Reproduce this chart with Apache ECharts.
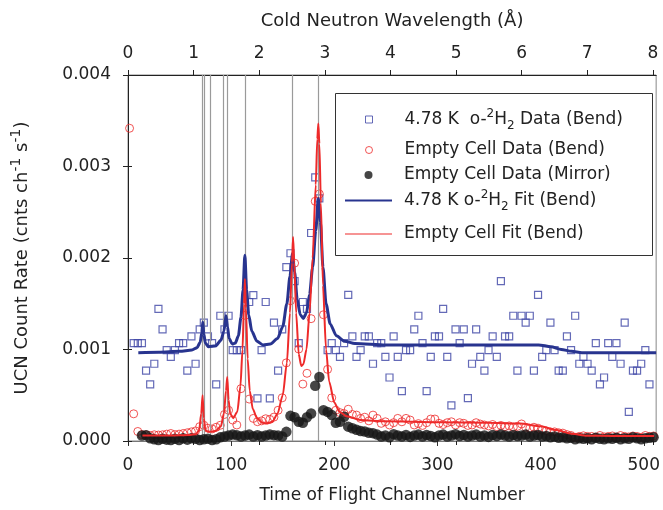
<!DOCTYPE html>
<html><head><meta charset="utf-8">
<script src="https://cdn.jsdelivr.net/npm/echarts@6/dist/echarts.min.js"></script>
<style>html,body{margin:0;padding:0;background:#fff}#c{width:663px;height:510px}</style>
</head><body><div id="c"></div>
<script>
// Time-of-flight channel (bin centres)
const channels = [1.5,5.5,9.5,13.5,17.5,21.5,25.5,29.5,33.5,37.5,41.5,45.5,49.5,53.5,57.5,61.5,65.5,69.5,73.5,77.5,81.5,85.5,89.5,93.5,97.5,101.5,105.5,109.5,113.5,117.5,121.5,125.5,129.5,133.5,137.5,141.5,145.5,149.5,153.5,157.5,161.5,165.5,169.5,173.5,177.5,181.5,185.5,189.5,193.5,197.5,201.5,205.5,209.5,213.5,217.5,221.5,225.5,229.5,233.5,237.5,241.5,245.5,249.5,253.5,257.5,261.5,265.5,269.5,273.5,277.5,281.5,285.5,289.5,293.5,297.5,301.5,305.5,309.5,313.5,317.5,321.5,325.5,329.5,333.5,337.5,341.5,345.5,349.5,353.5,357.5,361.5,365.5,369.5,373.5,377.5,381.5,385.5,389.5,393.5,397.5,401.5,405.5,409.5,413.5,417.5,421.5,425.5,429.5,433.5,437.5,441.5,445.5,449.5,453.5,457.5,461.5,465.5,469.5,473.5,477.5,481.5,485.5,489.5,493.5,497.5,501.5,505.5,509.5];

// Count rates in units of 1e-3 cnts/ch/s
const h2Data = [null,1.069,1.069,1.069,0.769,0.619,0.844,1.444,1.219,0.994,0.919,0.994,1.069,1.069,0.769,1.144,0.844,1.219,1.294,1.144,1.069,0.619,1.369,1.219,1.369,0.994,0.994,0.994,null,1.519,1.594,0.465,0.994,1.519,0.465,1.294,0.769,1.219,1.900,2.052,1.748,1.069,1.519,1.444,2.273,2.881,2.652,null,0.994,1.069,0.994,0.919,1.069,1.598,1.144,0.919,0.994,1.144,1.144,0.844,1.069,1.069,0.919,0.694,1.144,0.919,0.544,0.994,0.994,1.219,1.369,1.069,0.544,0.919,1.144,1.144,1.444,0.919,0.390,1.219,1.069,1.219,0.469,0.844,1.219,0.919,0.769,0.994,1.144,0.919,1.748,1.144,1.144,1.369,0.769,1.369,1.294,1.369,0.769,1.598,0.919,0.994,1.294,0.994,0.769,0.769,1.144,0.994,1.369,0.844,0.919,0.844,0.769,1.069,0.619,0.694,1.069,0.919,1.069,0.844,1.294,0.318,0.769,0.769,0.844,0.994,0.619,null];

const emptyBendData = [3.418,0.297,0.104,0.070,0.068,0.060,0.068,0.065,0.068,0.075,0.082,0.070,0.075,0.082,0.090,0.100,0.110,0.157,0.172,0.140,0.132,0.150,0.172,0.290,0.336,0.229,0.175,0.572,1.373,0.458,0.247,0.211,0.220,0.243,0.236,0.261,0.336,0.472,0.854,1.533,1.944,1.005,0.622,0.740,1.337,2.620,2.700,1.380,0.783,0.472,0.336,0.310,0.300,0.347,0.290,0.283,0.247,0.260,0.220,0.283,0.247,0.193,0.210,0.175,0.200,0.247,0.210,0.247,0.229,0.175,0.190,0.170,0.200,0.240,0.240,0.193,0.180,0.200,0.210,0.175,0.200,0.193,0.170,0.175,0.200,0.185,0.175,0.165,0.180,0.157,0.170,0.157,0.165,0.150,0.160,0.186,0.150,0.140,0.150,0.140,0.120,0.110,0.100,0.100,0.090,0.086,0.070,0.060,0.040,0.050,0.057,0.050,0.050,0.040,0.060,0.045,0.050,0.055,0.040,0.060,0.050,0.045,0.055,0.050,0.040,0.060,0.050,0.055];

const emptyMirrorData = [null,null,null,0.060,0.064,0.030,0.020,0.010,0.025,0.015,0.010,0.025,0.010,0.030,0.015,0.030,0.025,0.010,0.020,0.025,0.010,0.020,0.040,0.050,0.060,0.070,0.064,0.050,0.060,0.070,0.050,0.064,0.050,0.060,0.070,0.064,0.060,0.050,0.100,0.275,0.260,0.211,0.200,0.260,0.300,0.604,0.700,0.336,0.318,0.283,0.200,0.211,0.265,0.157,0.140,0.122,0.110,0.104,0.090,0.086,0.070,0.050,0.060,0.040,0.075,0.060,0.050,0.065,0.045,0.060,0.070,0.050,0.065,0.055,0.040,0.060,0.070,0.050,0.060,0.075,0.055,0.065,0.050,0.060,0.070,0.050,0.060,0.045,0.065,0.055,0.070,0.060,0.050,0.065,0.055,0.060,0.070,0.050,0.060,0.065,0.050,0.055,0.040,0.050,0.035,0.040,0.030,0.035,0.020,0.030,0.025,0.030,0.020,0.035,0.025,0.020,0.030,0.025,0.035,0.020,0.030,0.025,0.040,0.030,0.020,0.030,0.035,0.040];

// Fit curves
const h2FitCh  = [10,30,50,62,67,70,71.5,72.5,73.5,75,78,85,90,93,95,96.5,98,101,104,107,109.5,111.5,113.3,115,117,120,125,131,138,145,150,154,157,159.5,161.5,164,167,170,173,176,179,182,184.5,186.5,189,192,196,202,210,220,250,300,350,398,410,420,430,440,470,512];
const h2FitVal = [0.965,0.970,0.980,0.995,1.020,1.080,1.180,1.300,1.170,1.070,1.030,1.040,1.100,1.200,1.370,1.250,1.120,1.060,1.070,1.150,1.350,1.650,2.030,1.650,1.380,1.200,1.090,1.050,1.060,1.120,1.250,1.500,1.800,2.050,1.850,1.550,1.380,1.340,1.400,1.600,1.900,2.300,2.650,2.400,1.900,1.500,1.280,1.150,1.090,1.065,1.050,1.050,1.050,1.050,1.030,1.000,0.980,0.965,0.965,0.965];

const emptyFitCh  = [14,40,60,66,69,71,72.3,73.5,75,78,85,90,93,95,96.2,97.5,99,102,106,109,111,112.5,113.3,114.3,116,118,121,125,130,134,140,145,150,154,157,159,160,161.2,163,165.5,168,170,173,176,179,182,183.5,184.5,185.5,187,189,192,195,200,205,212,225,250,300,350,380,400,415,430,445,470,510];
const emptyFitVal = [0.060,0.060,0.065,0.075,0.120,0.300,0.500,0.250,0.120,0.100,0.110,0.160,0.300,0.550,0.700,0.450,0.300,0.250,0.320,0.600,1.000,1.500,1.770,1.450,0.900,0.550,0.350,0.250,0.200,0.190,0.210,0.300,0.500,0.850,1.400,1.950,2.230,1.950,1.400,0.950,0.820,0.840,1.000,1.400,2.000,2.800,3.300,3.470,3.250,2.600,1.700,1.000,0.650,0.420,0.320,0.270,0.230,0.215,0.205,0.200,0.190,0.160,0.120,0.080,0.058,0.055,0.055];

// Bragg-edge marker channels
const braggLines = [72.2, 73.7, 79.9, 92.8, 96.3, 113.3, 159.7, 184.9];

const channelTicks = [0,100,200,300,400,500];
const wavelengthTicks = [0,1,2,3,4,5,6,7,8];

const names = ['4.78 K  o-2H2 Data (Bend)','Empty Cell Data (Bend)','Empty Cell Data (Mirror)','4.78 K o-2H2 Fit (Bend)','Empty Cell Fit (Bend)'];
const richNames = {
  '4.78 K  o-2H2 Data (Bend)': '4.78 K  o-{sup|2}H{sub|2} Data (Bend)',
  '4.78 K o-2H2 Fit (Bend)': '4.78 K o-{sup|2}H{sub|2} Fit (Bend)'
};

const FONT = "'DejaVu Sans', sans-serif";
const TXT = '#222';
const BLUE_PT = '#3d45a5', BLUE_LN = '#28348f', RED = '#ee2a2a', BLACK = '#161616';

function pairs(xs, ys){ const out=[]; for(let i=0;i<xs.length;i++){ if(ys[i]!=null) out.push([xs[i], ys[i]]); } return out; }

// legend icons: invisible end points keep the icon box 47 px wide, so the marker sits in its centre
const ICON_SQUARE = 'path://M0,4L0,4M47,4L47,4M20,0.5H27V7.5H20Z';
const ICON_CIRCLE = 'path://M0,4L0,4M47,4L47,4M27,4A3.5,3.5 0 1 1 20,4A3.5,3.5 0 1 1 27,4Z';
const ICON_DOT    = 'path://M0,4L0,4M47,4L47,4M27.5,4A4,4 0 1 1 19.5,4A4,4 0 1 1 27.5,4Z';
const ICON_LINE2  = 'path://M0,3H47V5H0Z';
const ICON_LINE1  = 'path://M0,3.4H47V4.6H0Z';

const richLegend = {
  sup: {fontSize: 12, fontFamily: FONT, color: TXT, lineHeight: 12, padding: [0,0,12,0], verticalAlign: 'middle'},
  sub: {fontSize: 12, fontFamily: FONT, color: TXT, lineHeight: 12, padding: [12,0,0,0], verticalAlign: 'middle'}
};
function legendFor(name, top, icon, itemStyle){
  return {
    show: true, left: 345, top: top, padding: 0, orient: 'vertical', z: 60,
    itemWidth: 47, itemHeight: 8, selectedMode: false, symbolKeepAspect: true,
    data: [{name: name, icon: icon}],
    formatter: n => richNames[n] || n,
    itemStyle: itemStyle,
    textStyle: {fontSize: 17, fontFamily: FONT, color: TXT, lineHeight: 18, padding: [0,0,0,7], rich: richLegend}
  };
}

const chart = echarts.init(document.getElementById('c'), null, {renderer: 'canvas'});
chart.setOption({
  animation: false,
  backgroundColor: '#fff',
  textStyle: {fontFamily: FONT},
  grid: {left: 128, right: 5, top: 75, bottom: 62, show: true, borderColor: '#888', borderWidth: 1, backgroundColor: 'transparent'},
  graphic: [{
    type: 'rect', z: 50, left: 335, top: 93,
    shape: {width: 317, height: 162},
    style: {fill: '#fff', stroke: '#333', lineWidth: 1}
  }],
  legend: [
    legendFor(names[0], 107.5, ICON_SQUARE, {color: '#fff', borderColor: BLUE_PT, borderWidth: 1}),
    legendFor(names[1], 141, ICON_CIRCLE, {color: '#fff', borderColor: RED, borderWidth: 1}),
    legendFor(names[2], 166, ICON_DOT, {color: BLACK, borderWidth: 0}),
    legendFor(names[3], 188.5, ICON_LINE2, {color: BLUE_LN, borderWidth: 0}),
    legendFor(names[4], 225, ICON_LINE1, {color: RED, borderWidth: 0})
  ],
  xAxis: [{
    type: 'value', position: 'bottom', min: 0, max: 512,
    name: 'Time of Flight Channel Number', nameLocation: 'middle', nameGap: 46,
    nameTextStyle: {fontSize: 17, color: TXT, fontFamily: FONT, lineHeight: 18},
    axisLine: {show: true, onZero: false, lineStyle: {color: '#777', width: 1}},
    axisTick: {show: true, length: 5, customValues: channelTicks, lineStyle: {color: '#333'}},
    axisLabel: {fontSize: 17, color: TXT, margin: 16, customValues: channelTicks},
    splitLine: {show: false}
  }, {
    type: 'value', position: 'top', min: 0, max: 8.05,
    name: 'Cold Neutron Wavelength (Å)', nameLocation: 'middle', nameGap: 45,
    nameTextStyle: {fontSize: 18, color: TXT, fontFamily: FONT, lineHeight: 18},
    axisLine: {show: true, onZero: false, lineStyle: {color: '#222', width: 1}},
    axisTick: {show: true, length: 5, customValues: wavelengthTicks, lineStyle: {color: '#222'}},
    axisLabel: {fontSize: 17, color: TXT, margin: 13, customValues: wavelengthTicks},
    splitLine: {show: false}
  }, {
    // inner half of the crossing ticks on the top axis
    type: 'value', position: 'top', min: 0, max: 8.05,
    axisLine: {show: false}, axisLabel: {show: false}, splitLine: {show: false},
    axisTick: {show: true, inside: true, length: 4, customValues: wavelengthTicks, lineStyle: {color: '#222'}}
  }],
  yAxis: [{
    type: 'value', min: 0, max: 4, interval: 1,
    name: 'UCN Count Rate (cnts ch{sup|-1} s{sup|-1})', nameLocation: 'middle', nameGap: 97,
    nameTextStyle: {fontSize: 18, color: TXT, fontFamily: FONT, lineHeight: 18,
      rich: {sup: {fontSize: 14, fontFamily: FONT, color: TXT, lineHeight: 14, padding: [0,0,12,0], verticalAlign: 'middle'}}},
    axisLine: {show: true, onZero: false, lineStyle: {color: '#222', width: 1}},
    axisTick: {show: true, length: 5, lineStyle: {color: '#222'}},
    axisLabel: {fontSize: 17, color: TXT, margin: 17, formatter: v => (v / 1000).toFixed(3)},
    splitLine: {show: false}
  }, {
    // inner half of the crossing ticks on the left axis
    type: 'value', position: 'left', min: 0, max: 4, interval: 1,
    axisLine: {show: false}, axisLabel: {show: false}, splitLine: {show: false},
    axisTick: {show: true, inside: true, length: 4, lineStyle: {color: '#222'}}
  }],
  series: [
    {type: 'line', name: 'bragg', data: [], z: 1, silent: true,
     markLine: {silent: true, symbol: ['none','none'], label: {show: false},
       lineStyle: {color: '#9a9a9a', width: 1.2, type: 'solid'},
       data: braggLines.map(v => ({xAxis: v}))}},
    {type: 'scatter', name: names[0], z: 3, symbol: 'rect', symbolSize: 7,
     itemStyle: {color: 'rgba(255,255,255,0)', borderColor: BLUE_PT, borderWidth: 1.2},
     data: pairs(channels, h2Data)},
    {type: 'scatter', name: names[1], z: 4, symbol: 'circle', symbolSize: 8,
     itemStyle: {color: 'rgba(255,255,255,0)', borderColor: RED, borderWidth: 1},
     data: pairs(channels, emptyBendData)},
    {type: 'scatter', name: names[2], z: 5, symbol: 'circle', symbolSize: 10.5,
     itemStyle: {color: BLACK},
     data: pairs(channels, emptyMirrorData)},
    {type: 'line', name: names[3], z: 6, symbol: 'none', smooth: 0.25, smoothMonotone: 'x',
     lineStyle: {color: BLUE_LN, width: 3}, itemStyle: {color: BLUE_LN},
     data: pairs(h2FitCh, h2FitVal)},
    {type: 'line', name: names[4], z: 7, symbol: 'none', smooth: 0.25, smoothMonotone: 'x',
     lineStyle: {color: RED, width: 2}, itemStyle: {color: RED},
     data: pairs(emptyFitCh, emptyFitVal)}
  ]
});
</script></body></html>
